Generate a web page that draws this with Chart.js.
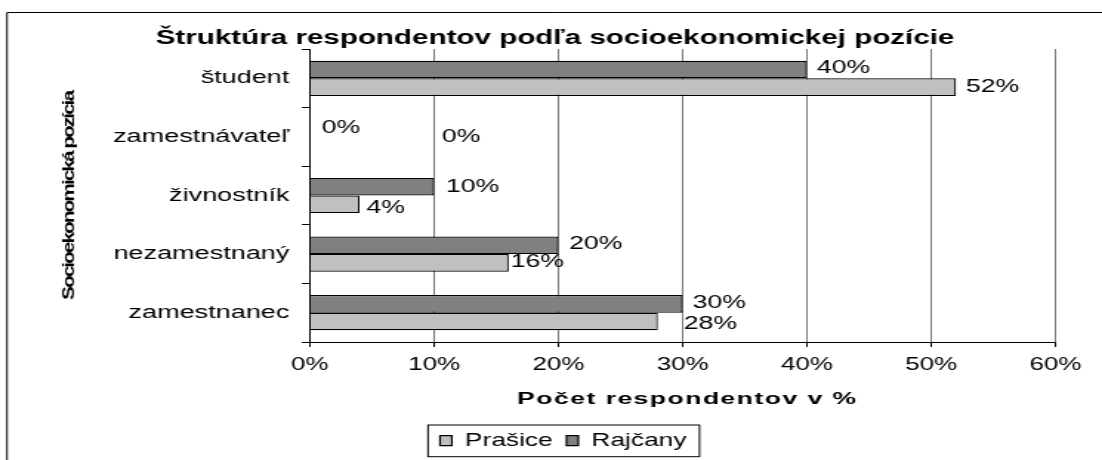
<!DOCTYPE html>
<html><head><meta charset="utf-8">
<script src="https://cdn.jsdelivr.net/npm/chart.js@4.4.1/dist/chart.umd.min.js"></script>
<style>html,body{margin:0;padding:0;background:#fff;overflow:hidden}canvas{display:block}</style>
</head>
<body>
<canvas id="c" width="745" height="460" style="width:1102px;height:460px"></canvas>
<script>
// ---- data ----
const categories = ['študent', 'zamestnávateľ', 'živnostník', 'nezamestnaný', 'zamestnanec'];
const rajcany = [40, 0, 10, 20, 30];
const prasice = [52, 0, 4, 16, 28];
const seriesNames = ['Rajčany', 'Prašice'];
const xTickValues = [0, 10, 20, 30, 40, 50, 60];
const chartTitle = 'Štruktúra respondentov podľa socioekonomickej pozície';
const xTitle = 'Počet respondentov v %';
const yTitle = 'Socioekonomická pozícia';

// ---- styling ----
const SX = 1102 / 745;            // horizontal stretch of the original picture
const FONT = "'Liberation Sans', Arial, sans-serif";
const LEG_FS = 17.8;
// label nudges (screen px) relative to default placement right of bar end
const labelNudge = [
  [[0, -1], [1.7, 0], [1.7, 0], [0.7, -1], [0, -0.8]],
  [[0, 0], [122, -9], [-3, 3.5], [-8, -0.7], [16, 3]]
];

const decor = {
  id: 'decor',
  beforeDraw(chart) {
    const ctx = chart.ctx;
    ctx.save();
    ctx.fillStyle = '#fff';
    ctx.fillRect(0, 0, chart.width, chart.height);
    ctx.strokeStyle = '#000';
    ctx.lineWidth = 1;
    ctx.beginPath();
    ctx.moveTo(7 / SX, chart.height);
    ctx.lineTo(7 / SX, 12.5);
    ctx.lineTo(chart.width, 12.5);
    ctx.stroke();
    ctx.restore();
  },
  afterUpdate(chart) {
    const lg = chart.legend;
    const hb = lg && lg.legendHitBoxes;
    if (hb && hb.length) {
      const dx = 440 / SX - hb[0].left;
      const dy = 440.7 - (hb[0].top + hb[0].height / 2);
      lg.left += dx; lg.right += dx; lg.top += dy; lg.bottom += dy;
      hb.forEach(h => { h.left += dx; h.top += dy; });
    }
    const tb = chart.titleBlock;
    if (tb) {
      const tdx = 555 / SX - (tb.left + tb.right) / 2;
      tb.left += tdx; tb.right += tdx;
      tb.top += 1.5; tb.bottom += 1.5;
    }
  },
  afterDatasetsDraw(chart) {
    const ctx = chart.ctx;
    ctx.save();
    ctx.font = `18px ${FONT}`;
    ctx.fillStyle = '#000';
    ctx.textAlign = 'left';
    ctx.textBaseline = 'middle';
    chart.data.datasets.forEach((ds, di) => {
      const meta = chart.getDatasetMeta(di);
      meta.data.forEach((bar, i) => {
        const n = labelNudge[di][i];
        ctx.fillText(ds.data[i] + '%', bar.x + (10 + n[0]) / SX, bar.y + n[1]);
      });
    });
    ctx.restore();
  },
  afterDraw(chart) {
    const ctx = chart.ctx;
    const ca = chart.chartArea;
    // legend frame
    const hb = chart.legend.legendHitBoxes;
    if (hb && hb.length) {
      const h0 = hb[0], hl = hb[hb.length - 1];
      const cy = h0.top + h0.height / 2;
      const l = h0.left - 12 / SX, r = hl.left + hl.width + 13 / SX;
      ctx.save();
      ctx.strokeStyle = '#000';
      ctx.lineWidth = 1;
      ctx.strokeRect(l, cy - 15.7, r - l, 31.7);
      ctx.restore();
    }
    // x axis title
    ctx.save();
    ctx.font = `bold 16px ${FONT}`;
    ctx.fillStyle = '#000';
    ctx.textAlign = 'left';
    ctx.textBaseline = 'alphabetic';
    const target = 339 / SX;
    const cx = (ca.left + ca.right) / 2 + 4 / SX;
    ctx.translate(cx - target / 2, 404.3);
    ctx.scale(1.12, 1);
    const nat = ctx.measureText(xTitle).width;
    if ('letterSpacing' in ctx) {
      ctx.letterSpacing = ((target / 1.12 - nat) / (xTitle.length - 1)) + 'px';
    }
    ctx.fillText(xTitle, 0, 0);
    ctx.restore();
    // y axis title
    ctx.save();
    ctx.translate(70 / SX, 196);
    ctx.rotate(-Math.PI / 2);
    ctx.font = `bold 21px ${FONT}`;
    const w = ctx.measureText(yTitle).width;
    ctx.scale(1, 0.52);
    if ('letterSpacing' in ctx) {
      ctx.letterSpacing = ((208 - w) / yTitle.length) + 'px';
    } else {
      ctx.scale(208 / w, 1);
    }
    ctx.fillStyle = '#000';
    ctx.textAlign = 'center';
    ctx.textBaseline = 'middle';
    ctx.fillText(yTitle, 0, 0);
    ctx.restore();
  }
};

Chart.defaults.color = '#000';
Chart.defaults.font.family = FONT;

new Chart(document.getElementById('c'), {
  type: 'bar',
  data: {
    labels: categories,
    datasets: [
      { label: seriesNames[0], data: rajcany, backgroundColor: '#808080', borderColor: '#000', borderWidth: 1.2 },
      { label: seriesNames[1], data: prasice, backgroundColor: '#c0c0c0', borderColor: '#000', borderWidth: 1.2 }
    ]
  },
  options: {
    indexAxis: 'y',
    responsive: false,
    animation: false,
    devicePixelRatio: 1,
    categoryPercentage: 0.6,
    barPercentage: 1.0,
    layout: { padding: { left: 0, right: 31.5, top: 0, bottom: 0 } },
    plugins: {
      title: {
        display: true,
        text: chartTitle,
        color: '#000',
        font: { family: FONT, size: 20, weight: 'bold', lineHeight: 1.2 },
        padding: { top: 25, bottom: 0 }
      },
      legend: {
        display: true,
        position: 'bottom',
        reverse: true,
        labels: {
          boxWidth: 8,
          boxHeight: 10,
          padding: 9.3,
          color: '#000',
          font: { family: FONT, size: LEG_FS }
        }
      },
      tooltip: { enabled: false }
    },
    scales: {
      x: {
        type: 'linear',
        min: xTickValues[0],
        max: xTickValues[xTickValues.length - 1],
        afterFit(scale) {
          const lh = scale.chart.legend ? scale.chart.legend.height : 0;
          scale.height = 460 - 342 - lh;
        },
        ticks: {
          stepSize: xTickValues[1] - xTickValues[0],
          autoSkip: false,
          maxRotation: 0,
          padding: 8,
          color: '#000',
          font: { family: FONT, size: 17.5 },
          callback: v => v + '%'
        },
        grid: { color: '#555', lineWidth: 0.8, drawTicks: true, tickLength: 5, tickColor: '#000', tickWidth: 1 },
        border: { display: true, color: '#000', width: 1 }
      },
      y: {
        type: 'category',
        afterFit(scale) { scale.width = 209.5; },
        ticks: {
          padding: 8.5,
          autoSkip: false,
          color: '#000',
          font: { family: FONT, size: 18.3 }
        },
        grid: { drawOnChartArea: false, drawTicks: true, tickLength: 5.4, tickColor: '#000', tickWidth: 1, offset: true },
        border: { display: true, color: '#000', width: 1 }
      }
    }
  },
  plugins: [decor]
});
</script>
</body></html>
